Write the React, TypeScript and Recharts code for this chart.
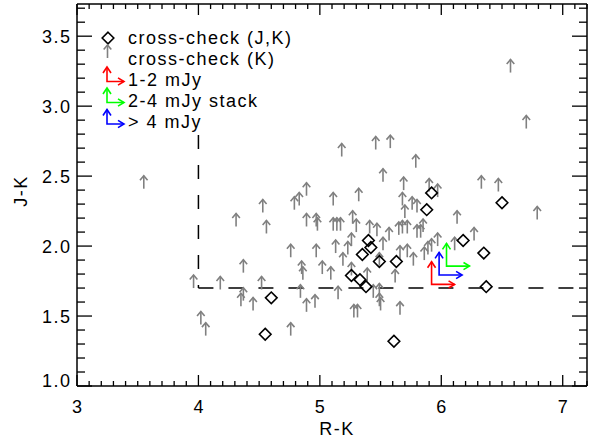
import { ScatterChart, Scatter, XAxis, YAxis, ReferenceLine, Legend } from "recharts";

// tick values
const xMajor = [3, 4, 5, 6, 7];
const yMajor = [1.0, 1.5, 2.0, 2.5, 3.0, 3.5];
const xTicks = Array.from({ length: 43 }, (_, i) => +(3 + i * 0.1).toFixed(1));
const yTicks = Array.from({ length: 28 }, (_, i) => +(1 + i * 0.1).toFixed(1));

// cross-check (K): lower limits in J-K, arrow tail at the point
const crossK = [
  { x: 3.55, y: 2.41 }, { x: 6.57, y: 3.24 }, { x: 6.7, y: 2.84 }, { x: 5.18, y: 2.64 },
  { x: 5.46, y: 2.69 }, { x: 5.58, y: 2.7 }, { x: 5.79, y: 2.56 }, { x: 5.52, y: 2.46 },
  { x: 5.69, y: 2.4 }, { x: 5.9, y: 2.39 }, { x: 5.97, y: 2.35 }, { x: 6.33, y: 2.41 },
  { x: 6.47, y: 2.39 }, { x: 6.79, y: 2.19 }, { x: 4.89, y: 2.36 }, { x: 4.79, y: 2.26 },
  { x: 4.83, y: 2.29 }, { x: 5.11, y: 2.29 }, { x: 5.32, y: 2.32 }, { x: 5.68, y: 2.29 },
  { x: 5.7, y: 2.2 }, { x: 5.76, y: 2.26 }, { x: 5.8, y: 2.24 }, { x: 6.13, y: 2.16 },
  { x: 4.31, y: 2.14 }, { x: 4.53, y: 2.24 }, { x: 4.56, y: 2.09 }, { x: 4.89, y: 2.14 },
  { x: 4.97, y: 2.14 }, { x: 4.98, y: 2.11 }, { x: 5.11, y: 2.11 }, { x: 5.14, y: 2.11 },
  { x: 5.17, y: 2.11 }, { x: 5.27, y: 2.16 }, { x: 5.3, y: 2.1 }, { x: 5.41, y: 2.09 },
  { x: 5.47, y: 2.07 }, { x: 5.57, y: 2.04 }, { x: 5.65, y: 2.08 }, { x: 5.68, y: 2.09 },
  { x: 5.72, y: 2.09 }, { x: 5.8, y: 2.06 }, { x: 5.83, y: 2.06 }, { x: 5.85, y: 2.1 },
  { x: 6.27, y: 2.04 }, { x: 5.97, y: 2.0 }, { x: 5.92, y: 1.96 }, { x: 5.89, y: 1.94 },
  { x: 6.11, y: 1.97 }, { x: 5.86, y: 1.9 }, { x: 5.72, y: 1.92 }, { x: 5.77, y: 1.86 },
  { x: 5.66, y: 1.91 }, { x: 5.52, y: 1.97 }, { x: 5.49, y: 1.86 }, { x: 5.39, y: 1.75 },
  { x: 5.23, y: 1.94 }, { x: 5.26, y: 2.0 }, { x: 5.13, y: 1.95 }, { x: 5.19, y: 1.86 },
  { x: 5.26, y: 1.79 }, { x: 5.09, y: 1.76 }, { x: 5.02, y: 1.8 }, { x: 4.97, y: 1.92 },
  { x: 4.85, y: 1.8 }, { x: 4.86, y: 1.76 }, { x: 4.76, y: 1.92 }, { x: 4.84, y: 1.63 },
  { x: 4.89, y: 1.53 }, { x: 4.96, y: 1.56 }, { x: 5.15, y: 1.62 }, { x: 5.28, y: 1.49 },
  { x: 5.31, y: 1.49 }, { x: 5.44, y: 1.63 }, { x: 5.49, y: 1.64 }, { x: 5.49, y: 1.57 },
  { x: 5.5, y: 1.54 }, { x: 5.62, y: 1.74 }, { x: 5.66, y: 1.51 }, { x: 4.76, y: 1.36 },
  { x: 4.37, y: 1.81 }, { x: 3.96, y: 1.7 }, { x: 4.18, y: 1.69 }, { x: 4.52, y: 1.69 },
  { x: 4.37, y: 1.61 }, { x: 4.35, y: 1.57 }, { x: 4.45, y: 1.54 }, { x: 4.02, y: 1.44 },
  { x: 4.06, y: 1.36 },
];

// cross-check (J,K)
const crossJK = [
  { x: 5.92, y: 2.38 }, { x: 5.88, y: 2.26 }, { x: 6.5, y: 2.31 }, { x: 6.18, y: 2.04 },
  { x: 6.35, y: 1.95 }, { x: 6.37, y: 1.71 }, { x: 5.4, y: 2.04 }, { x: 5.42, y: 1.99 },
  { x: 5.35, y: 1.94 }, { x: 5.49, y: 1.89 }, { x: 5.63, y: 1.89 }, { x: 5.26, y: 1.79 },
  { x: 5.33, y: 1.76 }, { x: 5.38, y: 1.71 }, { x: 5.61, y: 1.32 }, { x: 4.6, y: 1.63 },
  { x: 4.55, y: 1.37 },
];

// stacks (lower limits in both colours)
const stack12 = [{ x: 5.92, y: 1.726 }];
const stack24 = [{ x: 6.043, y: 1.857 }];
const stack4 = [{ x: 5.982, y: 1.793 }];

const FONT = "'Liberation Sans', Arial, Helvetica, sans-serif";
const GRAY = "#808080";
const RED = "#ff0000";
const GREEN = "#00ff00";
const BLUE = "#0000ff";

const near = (v: number, list: number[]) => list.some((m) => Math.abs(m - v) < 1e-6);

const textProps = {
  fontSize: 18,
  fontFamily: FONT,
  letterSpacing: 1.5,
  fill: "#000",
};

function BottomTick({ x, y, payload }: any) {
  const major = near(payload.value, xMajor);
  return (
    <g>
      <line x1={x} y1={y} x2={x} y2={y - (major ? 11 : 5)} stroke="#000" strokeWidth={1.3} />
      {major && (
        <text x={x + 0.75} y={y + 27} textAnchor="middle" {...textProps}>
          {payload.value}
        </text>
      )}
    </g>
  );
}

function TopTick({ x, y, payload }: any) {
  const major = near(payload.value, xMajor);
  return <line x1={x} y1={y} x2={x} y2={y + (major ? 11 : 5)} stroke="#000" strokeWidth={1.3} />;
}

function LeftTick({ x, y, payload }: any) {
  const v = payload.value;
  const major = near(v, yMajor);
  const shift = Math.abs(v - 1) < 1e-6 ? -6 : 0;
  return (
    <g>
      <line x1={x} y1={y} x2={x + (major ? 15 : 8)} y2={y} stroke="#000" strokeWidth={1.3} />
      {major && (
        <text x={x - 5.5} y={y + 6.5 + shift} textAnchor="end" {...textProps}>
          {v.toFixed(1)}
        </text>
      )}
    </g>
  );
}

function RightTick({ x, y, payload }: any) {
  const major = near(payload.value, yMajor);
  return <line x1={x} y1={y} x2={x - (major ? 15 : 8)} y2={y} stroke="#000" strokeWidth={1.3} />;
}

function arrowUp(cx: number, cy: number, len: number, hw: number, hl: number) {
  return `${cx - hw},${cy - len + hl} ${cx},${cy - len} ${cx + hw},${cy - len + hl}`;
}

function arrowRight(cx: number, cy: number, len: number, hw: number, hl: number) {
  return `${cx + len - hl},${cy - hw} ${cx + len},${cy} ${cx + len - hl},${cy + hw}`;
}

function UpArrow({ cx, cy }: any) {
  return (
    <g stroke={GRAY} strokeWidth={1.6} fill="none">
      <line x1={cx} y1={cy} x2={cx} y2={cy - 13} />
      <polyline points={arrowUp(cx, cy, 13, 3.8, 4.5)} />
    </g>
  );
}

function Diamond({ cx, cy }: any) {
  const r = 5.8;
  return (
    <polygon
      points={`${cx},${cy - r} ${cx + r},${cy} ${cx},${cy + r} ${cx - r},${cy}`}
      fill="none"
      stroke="#000"
      strokeWidth={1.6}
    />
  );
}

function Corner({ cx, cy, color, up, right }: any) {
  return (
    <g stroke={color} strokeWidth={1.6} fill="none">
      <polyline points={`${cx},${cy - up} ${cx},${cy} ${cx + right},${cy}`} />
      <polyline points={arrowUp(cx, cy, up, 4, 6)} />
      <polyline points={arrowRight(cx, cy, right, 3.6, 6)} />
    </g>
  );
}

const stackShape = (color: string) => (props: any) => (
  <Corner cx={props.cx} cy={props.cy} color={color} up={22.7} right={23} />
);

const LX = 95;
const LY = 26;

function LegendBox() {
  const rows = [
    { label: "cross-check (J,K)", base: 44 },
    { label: "cross-check (K)", base: 65 },
    { label: "1-2 mJy", base: 86 },
    { label: "2-4 mJy stack", base: 107 },
    { label: "> 4 mJy", base: 128 },
  ];
  return (
    <svg width={230} height={115} style={{ overflow: "visible", display: "block" }}>
      <g transform={`translate(${-LX},${-LY})`}>
        <Diamond cx={108} cy={38} />
        <UpArrow cx={107.5} cy={58} />
        <Corner cx={107} cy={81.5} color={RED} up={14.5} right={17} />
        <Corner cx={107} cy={102.5} color={GREEN} up={14.5} right={17} />
        <Corner cx={107} cy={124} color={BLUE} up={14.5} right={17} />
        {rows.map((r) => (
          <text key={r.label} x={128} y={r.base} {...textProps} style={{ whiteSpace: "pre" }}>
            {r.label}
          </text>
        ))}
      </g>
    </svg>
  );
}

export default function App() {
  return (
    <div style={{ position: "absolute", left: 0, top: 0, width: 597, height: 441, background: "#fff" }}>
      <ScatterChart width={597} height={441} margin={{ top: 3, right: 9, bottom: 54, left: 76 }}>
        <XAxis
          xAxisId="b"
          type="number"
          dataKey="x"
          domain={[3, 7.2]}
          ticks={xTicks}
          interval={0}
          height={1}
          tickSize={0}
          tickMargin={0}
          tickLine={false}
          allowDataOverflow
          axisLine={{ stroke: "#000", strokeWidth: 1.5 }}
          tick={<BottomTick />}
          label={{
            content: () => (
              <text x={337} y={435} textAnchor="middle" {...textProps}>
                R-K
              </text>
            ),
          }}
        />
        <XAxis
          xAxisId="t"
          orientation="top"
          type="number"
          dataKey="x"
          domain={[3, 7.2]}
          ticks={xTicks}
          interval={0}
          height={1}
          tickSize={0}
          tickMargin={0}
          tickLine={false}
          allowDataOverflow
          axisLine={{ stroke: "#000", strokeWidth: 1.5 }}
          tick={<TopTick />}
        />
        <YAxis
          yAxisId="l"
          type="number"
          dataKey="y"
          domain={[1, 3.73]}
          ticks={yTicks}
          interval={0}
          width={1}
          tickSize={0}
          tickMargin={0}
          tickLine={false}
          allowDataOverflow
          axisLine={{ stroke: "#000", strokeWidth: 1.5 }}
          tick={<LeftTick />}
          label={{
            content: () => (
              <text x={27} y={191} textAnchor="middle" transform="rotate(-90, 27, 191)" {...textProps}>
                J-K
              </text>
            ),
          }}
        />
        <YAxis
          yAxisId="r"
          orientation="right"
          type="number"
          dataKey="y"
          domain={[1, 3.73]}
          ticks={yTicks}
          interval={0}
          width={1}
          tickSize={0}
          tickMargin={0}
          tickLine={false}
          allowDataOverflow
          axisLine={{ stroke: "#000", strokeWidth: 1.5 }}
          tick={<RightTick />}
        />
        <ReferenceLine
          xAxisId="b"
          yAxisId="l"
          segment={[{ x: 4, y: 2.793 }, { x: 4, y: 1.7 }]}
          stroke="#000"
          strokeWidth={1.5}
          strokeDasharray="14 16"
        />
        <ReferenceLine
          xAxisId="b"
          yAxisId="l"
          segment={[{ x: 4, y: 1.7 }, { x: 7.2, y: 1.7 }]}
          stroke="#000"
          strokeWidth={1.5}
          strokeDasharray="15 15"
        />
        <Scatter name="cross-check (K)" data={crossK} xAxisId="b" yAxisId="l" shape={UpArrow} isAnimationActive={false} />
        <Scatter name="cross-check (J,K)" data={crossJK} xAxisId="b" yAxisId="l" shape={Diamond} isAnimationActive={false} />
        <Scatter name="1-2 mJy" data={stack12} xAxisId="b" yAxisId="l" shape={stackShape(RED)} isAnimationActive={false} />
        <Scatter name="2-4 mJy stack" data={stack24} xAxisId="b" yAxisId="l" shape={stackShape(GREEN)} isAnimationActive={false} />
        <Scatter name="> 4 mJy" data={stack4} xAxisId="b" yAxisId="l" shape={stackShape(BLUE)} isAnimationActive={false} />
        <Legend
          layout="vertical"
          align="center"
          verticalAlign="middle"
          content={() => <LegendBox />}
          wrapperStyle={{ left: LX, top: LY, width: 230, height: 115 }}
        />
      </ScatterChart>
    </div>
  );
}
